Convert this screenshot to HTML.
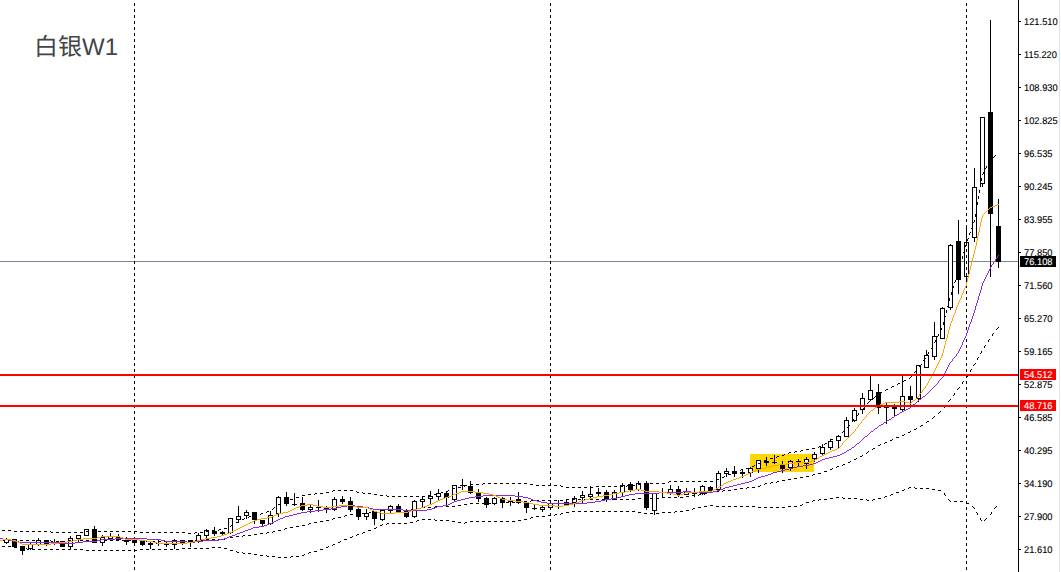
<!DOCTYPE html><html lang="zh"><head><meta charset="utf-8"><title>XAGUSD W1</title><style>
html,body{margin:0;padding:0;background:#fff;}body{width:1061px;height:572px;overflow:hidden;position:relative;font-family:"Liberation Sans",sans-serif;}
svg{position:absolute;left:0;top:0;display:block;}
.l{position:absolute;left:1024px;font-size:9.78px;line-height:10px;height:10px;color:#000;white-space:nowrap;transform-origin:0 0;transform:scaleX(.954);text-rendering:geometricPrecision;-webkit-text-stroke:.12px #000;}
.w{color:#fff;-webkit-text-stroke:.12px #fff;}
</style></head><body>
<svg width="1061" height="572" viewBox="0 0 1061 572" shape-rendering="crispEdges"><rect width="1061" height="572" fill="#fff"/><rect x="750" y="454" width="64" height="18" fill="#ffd700"/><rect x="0" y="261" width="1018" height="1" fill="#778899"/><path fill="#000" d="M6 538h1v6h-1zM4 539h5v4h-5zM14 539h1v8h-1zM12 539h5v8h-5zM22 546h1v9h-1zM20 546h5v5h-5zM30 542h1v8h-1zM28 544h5v5h-5zM38 538h1v8h-1zM36 540h5v5h-5zM46 540h1v6h-1zM44 540h5v4h-5zM54 539h1v6h-1zM52 542h5v1h-5zM62 541h1v6h-1zM60 541h5v6h-5zM70 536h1v14h-1zM68 538h5v9h-5zM78 535h1v7h-1zM76 535h5v4h-5zM86 529h1v7h-1zM84 529h5v7h-5zM94 526h1v17h-1zM92 529h5v14h-5zM102 535h1v11h-1zM100 537h5v6h-5zM110 533h1v7h-1zM108 536h5v3h-5zM118 534h1v7h-1zM116 537h5v3h-5zM126 537h1v8h-1zM124 540h5v2h-5zM134 539h1v7h-1zM132 540h5v3h-5zM142 541h1v5h-1zM140 541h5v4h-5zM150 541h1v8h-1zM148 543h5v2h-5zM158 540h1v6h-1zM156 543h5v1h-5zM166 541h1v6h-1zM164 544h5v1h-5zM174 539h1v10h-1zM172 540h5v5h-5zM182 540h1v5h-1zM180 540h5v3h-5zM190 540h1v7h-1zM188 540h5v3h-5zM198 533h1v10h-1zM196 535h5v6h-5zM206 529h1v9h-1zM204 530h5v6h-5zM214 527h1v9h-1zM212 531h5v3h-5zM222 531h1v5h-1zM220 532h5v2h-5zM230 518h1v16h-1zM228 518h5v15h-5zM238 506h1v17h-1zM236 516h5v4h-5zM246 510h1v9h-1zM244 512h5v4h-5zM254 512h1v12h-1zM252 512h5v8h-5zM262 520h1v7h-1zM260 520h5v4h-5zM270 511h1v14h-1zM268 515h5v9h-5zM278 496h1v21h-1zM276 497h5v17h-5zM286 492h1v14h-1zM284 497h5v7h-5zM294 493h1v13h-1zM292 504h5v1h-5zM302 497h1v14h-1zM300 503h5v7h-5zM310 505h1v8h-1zM308 507h5v3h-5zM318 500h1v12h-1zM316 507h5v1h-5zM326 506h1v7h-1zM324 508h5v2h-5zM334 497h1v14h-1zM332 499h5v11h-5zM342 496h1v8h-1zM340 499h5v3h-5zM350 497h1v15h-1zM348 501h5v9h-5zM358 508h1v12h-1zM356 509h5v8h-5zM366 509h1v11h-1zM364 513h5v4h-5zM374 511h1v14h-1zM372 511h5v8h-5zM382 510h1v11h-1zM380 510h5v10h-5zM390 505h1v8h-1zM388 506h5v5h-5zM398 504h1v8h-1zM396 506h5v6h-5zM406 509h1v9h-1zM404 511h5v6h-5zM414 500h1v18h-1zM412 501h5v16h-5zM422 497h1v11h-1zM420 499h5v3h-5zM430 491h1v13h-1zM428 496h5v3h-5zM438 489h1v12h-1zM436 493h5v4h-5zM446 491h1v16h-1zM444 493h5v5h-5zM454 485h1v16h-1zM452 485h5v15h-5zM462 479h1v11h-1zM460 485h5v1h-5zM470 481h1v13h-1zM468 486h5v7h-5zM478 489h1v13h-1zM476 493h5v6h-5zM486 497h1v11h-1zM484 498h5v7h-5zM494 497h1v8h-1zM492 498h5v6h-5zM502 497h1v11h-1zM500 498h5v5h-5zM510 497h1v9h-1zM508 501h5v1h-5zM518 492h1v12h-1zM516 499h5v4h-5zM526 501h1v12h-1zM524 503h5v5h-5zM534 505h1v5h-1zM532 508h5v1h-5zM542 506h1v6h-1zM540 507h5v3h-5zM550 503h1v7h-1zM548 503h5v5h-5zM558 500h1v9h-1zM556 506h5v1h-5zM566 499h1v7h-1zM564 502h5v3h-5zM574 496h1v11h-1zM572 498h5v5h-5zM582 491h1v12h-1zM580 495h5v3h-5zM590 486h1v14h-1zM588 494h5v3h-5zM598 488h1v8h-1zM596 492h5v2h-5zM606 490h1v12h-1zM604 492h5v8h-5zM614 490h1v10h-1zM612 492h5v8h-5zM622 483h1v14h-1zM620 485h5v8h-5zM630 482h1v10h-1zM628 484h5v6h-5zM638 481h1v10h-1zM636 483h5v7h-5zM646 481h1v29h-1zM644 483h5v25h-5zM654 493h1v22h-1zM652 493h5v18h-5zM662 488h1v10h-1zM660 492h5v1h-5zM670 485h1v10h-1zM668 489h5v4h-5zM678 486h1v11h-1zM676 489h5v6h-5zM686 488h1v7h-1zM684 492h5v3h-5zM694 488h1v9h-1zM692 493h5v1h-5zM702 485h1v10h-1zM700 486h5v8h-5zM710 486h1v7h-1zM708 487h5v4h-5zM718 471h1v19h-1zM716 473h5v17h-5zM726 468h1v9h-1zM724 471h5v3h-5zM734 466h1v11h-1zM732 471h5v3h-5zM742 469h1v9h-1zM740 472h5v2h-5zM750 467h1v10h-1zM748 468h5v5h-5zM758 460h1v13h-1zM756 460h5v9h-5zM766 457h1v9h-1zM764 461h5v2h-5zM774 455h1v9h-1zM772 462h5v1h-5zM782 461h1v12h-1zM780 464h5v5h-5zM790 460h1v11h-1zM788 461h5v7h-5zM798 459h1v7h-1zM796 461h5v2h-5zM806 457h1v12h-1zM804 459h5v5h-5zM814 452h1v10h-1zM812 454h5v5h-5zM822 444h1v12h-1zM820 447h5v7h-5zM830 439h1v11h-1zM828 441h5v7h-5zM838 436h1v12h-1zM836 436h5v5h-5zM846 417h1v20h-1zM844 420h5v17h-5zM854 408h1v14h-1zM852 410h5v11h-5zM862 393h1v21h-1zM860 398h5v12h-5zM870 374h1v27h-1zM868 390h5v10h-5zM878 384h1v30h-1zM876 392h5v16h-5zM886 403h1v21h-1zM884 407h5v1h-5zM894 404h1v12h-1zM892 407h5v2h-5zM902 375h1v36h-1zM900 396h5v14h-5zM910 386h1v19h-1zM908 396h5v4h-5zM918 365h1v37h-1zM916 365h5v34h-5zM926 350h1v18h-1zM924 355h5v13h-5zM934 322h1v38h-1zM932 336h5v21h-5zM942 307h1v32h-1zM940 308h5v31h-5zM950 244h1v66h-1zM948 245h5v63h-5zM958 220h1v74h-1zM956 241h5v39h-5zM966 225h1v56h-1zM964 242h5v35h-5zM974 168h1v74h-1zM972 187h5v51h-5zM982 117h1v70h-1zM980 117h5v67h-5zM990 20h1v257h-1zM988 112h5v102h-5zM998 199h1v69h-1zM996 226h5v36h-5z"/><path fill="#fff" d="M5 540h3v2h-3zM29 545h3v3h-3zM37 541h3v3h-3zM69 539h3v7h-3zM77 536h3v2h-3zM85 530h3v5h-3zM101 538h3v4h-3zM109 537h3v1h-3zM117 538h3v1h-3zM173 541h3v3h-3zM197 536h3v4h-3zM205 531h3v4h-3zM229 519h3v13h-3zM237 517h3v2h-3zM245 513h3v2h-3zM269 516h3v7h-3zM277 498h3v15h-3zM309 508h3v1h-3zM333 500h3v9h-3zM365 514h3v2h-3zM381 511h3v8h-3zM389 507h3v3h-3zM413 502h3v14h-3zM421 500h3v1h-3zM429 497h3v1h-3zM437 494h3v2h-3zM453 486h3v13h-3zM493 499h3v4h-3zM541 508h3v1h-3zM549 504h3v3h-3zM573 499h3v3h-3zM581 496h3v1h-3zM589 495h3v1h-3zM613 493h3v6h-3zM621 486h3v6h-3zM637 484h3v5h-3zM653 494h3v16h-3zM669 490h3v2h-3zM685 493h3v1h-3zM701 487h3v6h-3zM717 474h3v15h-3zM725 472h3v1h-3zM749 469h3v3h-3zM757 461h3v7h-3zM789 462h3v5h-3zM805 460h3v3h-3zM813 455h3v3h-3zM821 448h3v5h-3zM829 442h3v5h-3zM837 437h3v3h-3zM845 421h3v15h-3zM853 411h3v9h-3zM861 399h3v10h-3zM869 391h3v8h-3zM901 397h3v12h-3zM917 366h3v32h-3zM925 356h3v11h-3zM933 337h3v19h-3zM941 309h3v29h-3zM949 246h3v61h-3zM965 243h3v33h-3zM973 188h3v49h-3zM981 118h3v65h-3z"/><path fill="#000" d="M134 3h1v3h-1zM134 9h1v3h-1zM134 15h1v3h-1zM134 21h1v3h-1zM134 27h1v3h-1zM134 33h1v3h-1zM134 39h1v3h-1zM134 45h1v3h-1zM134 51h1v3h-1zM134 57h1v3h-1zM134 63h1v3h-1zM134 69h1v3h-1zM134 75h1v3h-1zM134 81h1v3h-1zM134 87h1v3h-1zM134 93h1v3h-1zM134 99h1v3h-1zM134 105h1v3h-1zM134 111h1v3h-1zM134 117h1v3h-1zM134 123h1v3h-1zM134 129h1v3h-1zM134 135h1v3h-1zM134 141h1v3h-1zM134 147h1v3h-1zM134 153h1v3h-1zM134 159h1v3h-1zM134 165h1v3h-1zM134 171h1v3h-1zM134 177h1v3h-1zM134 183h1v3h-1zM134 189h1v3h-1zM134 195h1v3h-1zM134 201h1v3h-1zM134 207h1v3h-1zM134 213h1v3h-1zM134 219h1v3h-1zM134 225h1v3h-1zM134 231h1v3h-1zM134 237h1v3h-1zM134 243h1v3h-1zM134 249h1v3h-1zM134 255h1v3h-1zM134 261h1v3h-1zM134 267h1v3h-1zM134 273h1v3h-1zM134 279h1v3h-1zM134 285h1v3h-1zM134 291h1v3h-1zM134 297h1v3h-1zM134 303h1v3h-1zM134 309h1v3h-1zM134 315h1v3h-1zM134 321h1v3h-1zM134 327h1v3h-1zM134 333h1v3h-1zM134 339h1v3h-1zM134 345h1v3h-1zM134 351h1v3h-1zM134 357h1v3h-1zM134 363h1v3h-1zM134 369h1v3h-1zM134 375h1v3h-1zM134 381h1v3h-1zM134 387h1v3h-1zM134 393h1v3h-1zM134 399h1v3h-1zM134 405h1v3h-1zM134 411h1v3h-1zM134 417h1v3h-1zM134 423h1v3h-1zM134 429h1v3h-1zM134 435h1v3h-1zM134 441h1v3h-1zM134 447h1v3h-1zM134 453h1v3h-1zM134 459h1v3h-1zM134 465h1v3h-1zM134 471h1v3h-1zM134 477h1v3h-1zM134 483h1v3h-1zM134 489h1v3h-1zM134 495h1v3h-1zM134 501h1v3h-1zM134 507h1v3h-1zM134 513h1v3h-1zM134 519h1v3h-1zM134 525h1v3h-1zM134 531h1v3h-1zM134 537h1v3h-1zM134 543h1v3h-1zM134 549h1v3h-1zM134 555h1v3h-1zM134 561h1v3h-1zM134 567h1v3h-1zM550 3h1v3h-1zM550 9h1v3h-1zM550 15h1v3h-1zM550 21h1v3h-1zM550 27h1v3h-1zM550 33h1v3h-1zM550 39h1v3h-1zM550 45h1v3h-1zM550 51h1v3h-1zM550 57h1v3h-1zM550 63h1v3h-1zM550 69h1v3h-1zM550 75h1v3h-1zM550 81h1v3h-1zM550 87h1v3h-1zM550 93h1v3h-1zM550 99h1v3h-1zM550 105h1v3h-1zM550 111h1v3h-1zM550 117h1v3h-1zM550 123h1v3h-1zM550 129h1v3h-1zM550 135h1v3h-1zM550 141h1v3h-1zM550 147h1v3h-1zM550 153h1v3h-1zM550 159h1v3h-1zM550 165h1v3h-1zM550 171h1v3h-1zM550 177h1v3h-1zM550 183h1v3h-1zM550 189h1v3h-1zM550 195h1v3h-1zM550 201h1v3h-1zM550 207h1v3h-1zM550 213h1v3h-1zM550 219h1v3h-1zM550 225h1v3h-1zM550 231h1v3h-1zM550 237h1v3h-1zM550 243h1v3h-1zM550 249h1v3h-1zM550 255h1v3h-1zM550 261h1v3h-1zM550 267h1v3h-1zM550 273h1v3h-1zM550 279h1v3h-1zM550 285h1v3h-1zM550 291h1v3h-1zM550 297h1v3h-1zM550 303h1v3h-1zM550 309h1v3h-1zM550 315h1v3h-1zM550 321h1v3h-1zM550 327h1v3h-1zM550 333h1v3h-1zM550 339h1v3h-1zM550 345h1v3h-1zM550 351h1v3h-1zM550 357h1v3h-1zM550 363h1v3h-1zM550 369h1v3h-1zM550 375h1v3h-1zM550 381h1v3h-1zM550 387h1v3h-1zM550 393h1v3h-1zM550 399h1v3h-1zM550 405h1v3h-1zM550 411h1v3h-1zM550 417h1v3h-1zM550 423h1v3h-1zM550 429h1v3h-1zM550 435h1v3h-1zM550 441h1v3h-1zM550 447h1v3h-1zM550 453h1v3h-1zM550 459h1v3h-1zM550 465h1v3h-1zM550 471h1v3h-1zM550 477h1v3h-1zM550 483h1v3h-1zM550 489h1v3h-1zM550 495h1v3h-1zM550 501h1v3h-1zM550 507h1v3h-1zM550 513h1v3h-1zM550 519h1v3h-1zM550 525h1v3h-1zM550 531h1v3h-1zM550 537h1v3h-1zM550 543h1v3h-1zM550 549h1v3h-1zM550 555h1v3h-1zM550 561h1v3h-1zM550 567h1v3h-1zM966 3h1v3h-1zM966 9h1v3h-1zM966 15h1v3h-1zM966 21h1v3h-1zM966 27h1v3h-1zM966 33h1v3h-1zM966 39h1v3h-1zM966 45h1v3h-1zM966 51h1v3h-1zM966 57h1v3h-1zM966 63h1v3h-1zM966 69h1v3h-1zM966 75h1v3h-1zM966 81h1v3h-1zM966 87h1v3h-1zM966 93h1v3h-1zM966 99h1v3h-1zM966 105h1v3h-1zM966 111h1v3h-1zM966 117h1v3h-1zM966 123h1v3h-1zM966 129h1v3h-1zM966 135h1v3h-1zM966 141h1v3h-1zM966 147h1v3h-1zM966 153h1v3h-1zM966 159h1v3h-1zM966 165h1v3h-1zM966 171h1v3h-1zM966 177h1v3h-1zM966 183h1v3h-1zM966 189h1v3h-1zM966 195h1v3h-1zM966 201h1v3h-1zM966 207h1v3h-1zM966 213h1v3h-1zM966 219h1v3h-1zM966 225h1v3h-1zM966 231h1v3h-1zM966 237h1v3h-1zM966 243h1v3h-1zM966 249h1v3h-1zM966 255h1v3h-1zM966 261h1v3h-1zM966 267h1v3h-1zM966 273h1v3h-1zM966 279h1v3h-1zM966 285h1v3h-1zM966 291h1v3h-1zM966 297h1v3h-1zM966 303h1v3h-1zM966 309h1v3h-1zM966 315h1v3h-1zM966 321h1v3h-1zM966 327h1v3h-1zM966 333h1v3h-1zM966 339h1v3h-1zM966 345h1v3h-1zM966 351h1v3h-1zM966 357h1v3h-1zM966 363h1v3h-1zM966 369h1v3h-1zM966 375h1v3h-1zM966 381h1v3h-1zM966 387h1v3h-1zM966 393h1v3h-1zM966 399h1v3h-1zM966 405h1v3h-1zM966 411h1v3h-1zM966 417h1v3h-1zM966 423h1v3h-1zM966 429h1v3h-1zM966 435h1v3h-1zM966 441h1v3h-1zM966 447h1v3h-1zM966 453h1v3h-1zM966 459h1v3h-1zM966 465h1v3h-1zM966 471h1v3h-1zM966 477h1v3h-1zM966 483h1v3h-1zM966 489h1v3h-1zM966 495h1v3h-1zM966 501h1v3h-1zM966 507h1v3h-1zM966 513h1v3h-1zM966 519h1v3h-1zM966 525h1v3h-1zM966 531h1v3h-1zM966 537h1v3h-1zM966 543h1v3h-1zM966 549h1v3h-1zM966 555h1v3h-1zM966 561h1v3h-1zM966 567h1v3h-1z"/><path fill="#000" d="M995 155h1v1h-1zM994 156h1v1h-1zM993 157h1v1h-1zM989 160h1v1h-1zM989 161h1v1h-1zM988 162h1v1h-1zM986 166h1v1h-1zM986 167h1v1h-1zM985 168h1v1h-1zM983 172h1v1h-1zM983 173h1v1h-1zM982 174h1v1h-1zM981 178h1v1h-1zM981 179h1v1h-1zM981 180h1v1h-1zM980 184h1v1h-1zM980 185h1v1h-1zM980 186h1v1h-1zM979 190h1v1h-1zM979 191h1v1h-1zM979 192h1v1h-1zM978 196h1v1h-1zM978 197h1v1h-1zM978 198h1v1h-1zM977 202h1v1h-1zM977 203h1v1h-1zM977 204h1v1h-1zM976 208h1v1h-1zM976 209h1v1h-1zM976 210h1v1h-1zM975 214h1v1h-1zM975 215h1v1h-1zM975 216h1v1h-1zM974 220h1v1h-1zM974 221h1v1h-1zM973 222h1v1h-1zM972 226h1v1h-1zM972 227h1v1h-1zM971 228h1v1h-1zM970 232h1v1h-1zM969 233h1v1h-1zM969 234h1v1h-1zM968 238h1v1h-1zM967 239h1v1h-1zM967 240h1v1h-1zM966 244h1v1h-1zM965 245h1v1h-1zM965 246h1v1h-1zM964 250h1v1h-1zM964 251h1v1h-1zM963 252h1v1h-1zM962 256h1v1h-1zM962 257h1v1h-1zM962 258h1v1h-1zM960 262h1v1h-1zM960 263h1v1h-1zM960 264h1v1h-1zM959 268h1v1h-1zM958 269h1v1h-1zM958 270h1v1h-1zM957 274h1v1h-1zM956 275h1v1h-1zM956 276h1v1h-1zM955 280h1v1h-1zM955 281h1v1h-1zM954 282h1v1h-1zM953 286h1v1h-1zM953 287h1v1h-1zM952 288h1v1h-1zM951 292h1v1h-1zM951 293h1v1h-1zM951 294h1v1h-1zM949 298h1v1h-1zM949 299h1v1h-1zM949 300h1v1h-1zM948 304h1v1h-1zM948 305h1v1h-1zM947 306h1v1h-1zM946 310h1v1h-1zM946 311h1v1h-1zM946 312h1v1h-1zM945 316h1v1h-1zM944 317h1v1h-1zM944 318h1v1h-1zM943 322h1v1h-1zM943 323h1v1h-1zM943 324h1v1h-1zM998 327h1v1h-1zM941 328h1v1h-1zM997 328h1v1h-1zM941 329h1v1h-1zM996 329h1v1h-1zM940 330h1v1h-1zM993 333h1v1h-1zM938 334h1v1h-1zM992 334h1v1h-1zM938 335h1v1h-1zM992 335h1v1h-1zM937 336h1v1h-1zM989 339h1v1h-1zM935 340h1v1h-1zM988 340h1v1h-1zM935 341h1v1h-1zM988 341h1v1h-1zM934 342h1v1h-1zM985 345h1v1h-1zM932 346h1v1h-1zM984 346h1v1h-1zM932 347h1v1h-1zM984 347h1v1h-1zM931 348h1v1h-1zM981 351h1v1h-1zM928 352h1v1h-1zM981 352h1v1h-1zM928 353h1v1h-1zM980 353h1v1h-1zM927 354h1v1h-1zM978 357h1v1h-1zM925 358h1v1h-1zM977 358h1v1h-1zM924 359h1v1h-1zM977 359h1v1h-1zM923 360h1v1h-1zM975 363h1v1h-1zM921 364h1v1h-1zM974 364h1v1h-1zM920 365h1v1h-1zM973 365h1v1h-1zM919 366h1v1h-1zM971 369h1v1h-1zM916 370h1v1h-1zM970 370h1v1h-1zM915 371h1v1h-1zM970 371h1v1h-1zM914 372h1v1h-1zM967 375h1v1h-1zM911 376h1v1h-1zM967 376h1v1h-1zM910 377h1v1h-1zM966 377h1v1h-1zM909 378h1v1h-1zM904 380h2v1h-2zM903 381h1v1h-1zM963 381h1v1h-1zM962 382h1v1h-1zM898 383h2v1h-2zM962 383h1v1h-1zM897 384h1v1h-1zM892 386h2v1h-2zM891 387h1v1h-1zM959 387h1v1h-1zM958 388h1v1h-1zM886 389h2v1h-2zM957 389h1v1h-1zM885 390h1v1h-1zM881 392h1v1h-1zM879 393h2v1h-2zM954 393h1v1h-1zM954 394h1v1h-1zM953 395h1v1h-1zM875 396h1v1h-1zM874 397h1v1h-1zM873 398h1v1h-1zM950 399h1v1h-1zM949 400h1v1h-1zM869 401h1v1h-1zM948 401h1v1h-1zM868 402h1v1h-1zM867 403h1v1h-1zM945 405h1v1h-1zM944 406h1v1h-1zM864 407h1v1h-1zM944 407h1v1h-1zM863 408h1v1h-1zM862 409h1v1h-1zM940 411h1v1h-1zM939 412h1v1h-1zM858 413h1v1h-1zM938 413h1v1h-1zM858 414h1v1h-1zM857 415h1v1h-1zM934 416h1v1h-1zM933 417h1v1h-1zM932 418h1v1h-1zM853 419h1v1h-1zM853 420h1v1h-1zM852 421h1v1h-1zM927 421h2v1h-2zM926 422h1v1h-1zM849 425h1v1h-1zM921 425h2v1h-2zM848 426h1v1h-1zM920 426h1v1h-1zM847 427h1v1h-1zM916 428h1v1h-1zM914 429h2v1h-2zM843 431h2v1h-2zM910 431h1v1h-1zM842 432h1v1h-1zM908 432h2v1h-2zM904 434h1v1h-1zM838 435h1v1h-1zM902 435h2v1h-2zM836 436h2v1h-2zM896 437h3v1h-3zM831 439h2v1h-2zM892 439h1v1h-1zM830 440h1v1h-1zM890 440h2v1h-2zM885 442h2v1h-2zM825 443h2v1h-2zM884 443h1v1h-1zM824 444h1v1h-1zM880 444h1v1h-1zM878 445h2v1h-2zM819 446h2v1h-2zM818 447h1v1h-1zM812 448h3v1h-3zM873 448h2v1h-2zM806 449h3v1h-3zM872 449h1v1h-1zM801 450h2v1h-2zM795 451h2v1h-2zM800 451h1v1h-1zM868 451h1v1h-1zM789 452h2v1h-2zM794 452h1v1h-1zM867 452h1v1h-1zM788 453h1v1h-1zM866 453h1v1h-1zM784 454h1v1h-1zM782 455h2v1h-2zM862 455h1v1h-1zM777 456h2v1h-2zM860 456h2v1h-2zM776 457h1v1h-1zM770 458h3v1h-3zM856 458h1v1h-1zM766 459h1v1h-1zM854 459h2v1h-2zM764 460h2v1h-2zM850 461h1v1h-1zM760 462h1v1h-1zM848 462h2v1h-2zM758 463h2v1h-2zM843 464h2v1h-2zM754 465h1v1h-1zM842 465h1v1h-1zM752 466h2v1h-2zM837 466h2v1h-2zM836 467h1v1h-1zM746 468h3v1h-3zM832 468h1v1h-1zM741 469h2v1h-2zM830 469h2v1h-2zM740 470h1v1h-1zM736 471h1v1h-1zM824 471h3v1h-3zM734 472h2v1h-2zM818 473h3v1h-3zM728 474h3v1h-3zM813 474h2v1h-2zM812 475h1v1h-1zM724 476h1v1h-1zM806 476h3v1h-3zM722 477h2v1h-2zM800 477h3v1h-3zM794 478h3v1h-3zM717 479h2v1h-2zM788 479h3v1h-3zM716 480h1v1h-1zM782 480h3v1h-3zM669 481h2v1h-2zM674 481h3v1h-3zM680 481h3v1h-3zM686 481h3v1h-3zM692 481h3v1h-3zM698 481h3v1h-3zM704 481h3v1h-3zM710 481h3v1h-3zM777 481h2v1h-2zM668 482h1v1h-1zM771 482h2v1h-2zM776 482h1v1h-1zM483 483h2v1h-2zM488 483h3v1h-3zM494 483h3v1h-3zM500 483h3v1h-3zM506 483h3v1h-3zM512 483h3v1h-3zM518 483h3v1h-3zM524 483h3v1h-3zM644 483h3v1h-3zM650 483h3v1h-3zM656 483h3v1h-3zM662 483h3v1h-3zM765 483h2v1h-2zM770 483h1v1h-1zM470 484h3v1h-3zM476 484h3v1h-3zM482 484h1v1h-1zM530 484h3v1h-3zM638 484h3v1h-3zM764 484h1v1h-1zM465 485h2v1h-2zM536 485h3v1h-3zM542 485h3v1h-3zM548 485h3v1h-3zM554 485h3v1h-3zM560 485h1v1h-1zM627 485h2v1h-2zM632 485h3v1h-3zM760 485h1v1h-1zM464 486h1v1h-1zM561 486h2v1h-2zM596 486h3v1h-3zM602 486h3v1h-3zM608 486h3v1h-3zM614 486h3v1h-3zM620 486h3v1h-3zM626 486h1v1h-1zM758 486h2v1h-2zM458 487h3v1h-3zM566 487h3v1h-3zM572 487h3v1h-3zM578 487h3v1h-3zM584 487h3v1h-3zM590 487h3v1h-3zM747 487h2v1h-2zM752 487h3v1h-3zM909 487h2v1h-2zM914 487h1v1h-1zM453 488h2v1h-2zM740 488h3v1h-3zM746 488h1v1h-1zM908 488h1v1h-1zM915 488h2v1h-2zM920 488h3v1h-3zM926 488h3v1h-3zM452 489h1v1h-1zM734 489h3v1h-3zM904 489h1v1h-1zM932 489h3v1h-3zM333 490h2v1h-2zM338 490h3v1h-3zM344 490h3v1h-3zM350 490h3v1h-3zM448 490h1v1h-1zM723 490h2v1h-2zM728 490h3v1h-3zM902 490h2v1h-2zM938 490h3v1h-3zM332 491h1v1h-1zM356 491h1v1h-1zM446 491h2v1h-2zM716 491h3v1h-3zM722 491h1v1h-1zM326 492h3v1h-3zM357 492h2v1h-2zM362 492h1v1h-1zM441 492h2v1h-2zM710 492h3v1h-3zM896 492h3v1h-3zM315 493h2v1h-2zM320 493h3v1h-3zM363 493h2v1h-2zM368 493h3v1h-3zM440 493h1v1h-1zM705 493h2v1h-2zM944 493h1v1h-1zM308 494h3v1h-3zM314 494h1v1h-1zM374 494h3v1h-3zM434 494h3v1h-3zM699 494h2v1h-2zM704 494h1v1h-1zM891 494h2v1h-2zM944 494h1v1h-1zM302 495h3v1h-3zM380 495h3v1h-3zM386 495h1v1h-1zM428 495h3v1h-3zM692 495h3v1h-3zM698 495h1v1h-1zM890 495h1v1h-1zM945 495h1v1h-1zM387 496h2v1h-2zM392 496h3v1h-3zM398 496h3v1h-3zM404 496h3v1h-3zM410 496h3v1h-3zM416 496h3v1h-3zM422 496h3v1h-3zM686 496h3v1h-3zM885 496h2v1h-2zM296 497h3v1h-3zM662 497h3v1h-3zM668 497h3v1h-3zM674 497h3v1h-3zM680 497h3v1h-3zM836 497h3v1h-3zM842 497h1v1h-1zM884 497h1v1h-1zM638 498h3v1h-3zM644 498h3v1h-3zM650 498h3v1h-3zM656 498h3v1h-3zM830 498h3v1h-3zM843 498h2v1h-2zM848 498h3v1h-3zM854 498h3v1h-3zM878 498h3v1h-3zM290 499h3v1h-3zM566 499h3v1h-3zM572 499h3v1h-3zM578 499h3v1h-3zM584 499h3v1h-3zM590 499h3v1h-3zM596 499h3v1h-3zM602 499h3v1h-3zM608 499h3v1h-3zM614 499h3v1h-3zM620 499h3v1h-3zM626 499h3v1h-3zM632 499h3v1h-3zM819 499h2v1h-2zM824 499h3v1h-3zM860 499h3v1h-3zM866 499h1v1h-1zM873 499h2v1h-2zM948 499h1v1h-1zM286 500h1v1h-1zM531 500h2v1h-2zM536 500h3v1h-3zM542 500h3v1h-3zM548 500h3v1h-3zM554 500h3v1h-3zM560 500h3v1h-3zM813 500h2v1h-2zM818 500h1v1h-1zM867 500h2v1h-2zM872 500h1v1h-1zM949 500h1v1h-1zM284 501h2v1h-2zM524 501h3v1h-3zM530 501h1v1h-1zM812 501h1v1h-1zM950 501h1v1h-1zM954 501h3v1h-3zM960 501h3v1h-3zM500 502h3v1h-3zM506 502h3v1h-3zM512 502h3v1h-3zM518 502h3v1h-3zM806 502h3v1h-3zM966 502h1v1h-1zM280 503h1v1h-1zM470 503h3v1h-3zM476 503h3v1h-3zM482 503h3v1h-3zM488 503h3v1h-3zM494 503h3v1h-3zM967 503h2v1h-2zM278 504h2v1h-2zM464 504h3v1h-3zM802 504h1v1h-1zM458 505h3v1h-3zM710 505h3v1h-3zM800 505h2v1h-2zM435 506h2v1h-2zM440 506h3v1h-3zM446 506h3v1h-3zM452 506h3v1h-3zM704 506h3v1h-3zM716 506h3v1h-3zM722 506h3v1h-3zM728 506h3v1h-3zM734 506h3v1h-3zM740 506h3v1h-3zM746 506h3v1h-3zM752 506h3v1h-3zM788 506h3v1h-3zM794 506h3v1h-3zM972 506h1v1h-1zM996 506h1v1h-1zM274 507h1v1h-1zM422 507h3v1h-3zM428 507h3v1h-3zM434 507h1v1h-1zM698 507h3v1h-3zM758 507h3v1h-3zM764 507h3v1h-3zM770 507h3v1h-3zM776 507h3v1h-3zM782 507h3v1h-3zM973 507h1v1h-1zM995 507h1v1h-1zM273 508h1v1h-1zM417 508h2v1h-2zM693 508h2v1h-2zM974 508h1v1h-1zM994 508h1v1h-1zM272 509h1v1h-1zM381 509h2v1h-2zM386 509h3v1h-3zM392 509h3v1h-3zM398 509h3v1h-3zM411 509h2v1h-2zM416 509h1v1h-1zM692 509h1v1h-1zM380 510h1v1h-1zM404 510h3v1h-3zM410 510h1v1h-1zM686 510h3v1h-3zM267 511h2v1h-2zM374 511h3v1h-3zM572 511h3v1h-3zM578 511h3v1h-3zM584 511h3v1h-3zM590 511h3v1h-3zM596 511h3v1h-3zM602 511h3v1h-3zM608 511h3v1h-3zM614 511h3v1h-3zM620 511h3v1h-3zM626 511h3v1h-3zM632 511h3v1h-3zM675 511h2v1h-2zM680 511h3v1h-3zM266 512h1v1h-1zM369 512h2v1h-2zM566 512h3v1h-3zM638 512h3v1h-3zM662 512h3v1h-3zM668 512h3v1h-3zM674 512h1v1h-1zM976 512h1v1h-1zM991 512h1v1h-1zM261 513h2v1h-2zM356 513h3v1h-3zM362 513h3v1h-3zM368 513h1v1h-1zM561 513h2v1h-2zM644 513h3v1h-3zM650 513h3v1h-3zM656 513h3v1h-3zM977 513h1v1h-1zM991 513h1v1h-1zM260 514h1v1h-1zM350 514h3v1h-3zM555 514h2v1h-2zM560 514h1v1h-1zM977 514h1v1h-1zM990 514h1v1h-1zM254 515h3v1h-3zM345 515h2v1h-2zM548 515h3v1h-3zM554 515h1v1h-1zM249 516h2v1h-2zM344 516h1v1h-1zM536 516h3v1h-3zM542 516h3v1h-3zM248 517h1v1h-1zM338 517h3v1h-3zM531 517h2v1h-2zM244 518h1v1h-1zM333 518h2v1h-2zM530 518h1v1h-1zM980 518h1v1h-1zM986 518h1v1h-1zM242 519h2v1h-2zM332 519h1v1h-1zM422 519h3v1h-3zM428 519h3v1h-3zM434 519h1v1h-1zM524 519h3v1h-3zM980 519h1v1h-1zM985 519h1v1h-1zM326 520h3v1h-3zM417 520h2v1h-2zM435 520h2v1h-2zM440 520h3v1h-3zM446 520h3v1h-3zM518 520h3v1h-3zM981 520h1v1h-1zM984 520h1v1h-1zM238 521h1v1h-1zM320 521h3v1h-3zM416 521h1v1h-1zM452 521h3v1h-3zM470 521h3v1h-3zM476 521h3v1h-3zM482 521h3v1h-3zM488 521h3v1h-3zM494 521h3v1h-3zM500 521h3v1h-3zM506 521h3v1h-3zM512 521h3v1h-3zM236 522h2v1h-2zM314 522h3v1h-3zM410 522h3v1h-3zM458 522h3v1h-3zM465 522h2v1h-2zM309 523h2v1h-2zM387 523h2v1h-2zM392 523h3v1h-3zM398 523h3v1h-3zM404 523h3v1h-3zM464 523h1v1h-1zM308 524h1v1h-1zM382 524h1v1h-1zM386 524h1v1h-1zM231 525h2v1h-2zM302 525h3v1h-3zM380 525h2v1h-2zM230 526h1v1h-1zM296 526h3v1h-3zM290 527h3v1h-3zM376 527h1v1h-1zM224 528h3v1h-3zM285 528h2v1h-2zM374 528h2v1h-2zM219 529h2v1h-2zM284 529h1v1h-1zM2 530h3v1h-3zM8 530h3v1h-3zM212 530h3v1h-3zM218 530h1v1h-1zM278 530h3v1h-3zM368 530h3v1h-3zM14 531h3v1h-3zM20 531h3v1h-3zM26 531h3v1h-3zM32 531h3v1h-3zM38 531h3v1h-3zM44 531h3v1h-3zM50 531h1v1h-1zM86 531h3v1h-3zM92 531h3v1h-3zM98 531h3v1h-3zM104 531h3v1h-3zM110 531h3v1h-3zM116 531h3v1h-3zM122 531h3v1h-3zM128 531h3v1h-3zM134 531h3v1h-3zM206 531h3v1h-3zM273 531h2v1h-2zM51 532h2v1h-2zM56 532h3v1h-3zM62 532h3v1h-3zM68 532h3v1h-3zM74 532h3v1h-3zM80 532h3v1h-3zM140 532h3v1h-3zM146 532h3v1h-3zM152 532h3v1h-3zM158 532h3v1h-3zM164 532h3v1h-3zM170 532h3v1h-3zM176 532h3v1h-3zM182 532h3v1h-3zM195 532h2v1h-2zM200 532h3v1h-3zM267 532h2v1h-2zM272 532h1v1h-1zM363 532h2v1h-2zM188 533h3v1h-3zM194 533h1v1h-1zM260 533h3v1h-3zM266 533h1v1h-1zM362 533h1v1h-1zM254 534h3v1h-3zM357 534h2v1h-2zM243 535h2v1h-2zM248 535h3v1h-3zM356 535h1v1h-1zM236 536h3v1h-3zM242 536h1v1h-1zM352 536h1v1h-1zM230 537h3v1h-3zM350 537h2v1h-2zM225 538h2v1h-2zM206 539h3v1h-3zM212 539h3v1h-3zM218 539h3v1h-3zM224 539h1v1h-1zM344 539h3v1h-3zM2 540h3v1h-3zM8 540h3v1h-3zM14 540h3v1h-3zM20 540h3v1h-3zM26 540h3v1h-3zM32 540h3v1h-3zM38 540h3v1h-3zM44 540h3v1h-3zM50 540h1v1h-1zM68 540h3v1h-3zM74 540h3v1h-3zM80 540h3v1h-3zM86 540h3v1h-3zM92 540h3v1h-3zM98 540h3v1h-3zM104 540h3v1h-3zM110 540h3v1h-3zM116 540h3v1h-3zM122 540h3v1h-3zM128 540h3v1h-3zM134 540h3v1h-3zM195 540h2v1h-2zM200 540h3v1h-3zM51 541h2v1h-2zM56 541h3v1h-3zM62 541h3v1h-3zM140 541h3v1h-3zM146 541h3v1h-3zM152 541h3v1h-3zM158 541h3v1h-3zM164 541h3v1h-3zM170 541h3v1h-3zM176 541h3v1h-3zM182 541h3v1h-3zM188 541h3v1h-3zM194 541h1v1h-1zM340 541h1v1h-1zM338 542h2v1h-2zM333 544h2v1h-2zM332 545h1v1h-1zM2 546h3v1h-3zM8 546h3v1h-3zM328 546h1v1h-1zM14 547h3v1h-3zM212 547h3v1h-3zM218 547h3v1h-3zM326 547h2v1h-2zM20 548h3v1h-3zM26 548h1v1h-1zM182 548h3v1h-3zM188 548h3v1h-3zM194 548h3v1h-3zM200 548h3v1h-3zM206 548h3v1h-3zM224 548h3v1h-3zM27 549h2v1h-2zM32 549h3v1h-3zM38 549h3v1h-3zM44 549h3v1h-3zM50 549h3v1h-3zM56 549h3v1h-3zM62 549h3v1h-3zM68 549h3v1h-3zM74 549h3v1h-3zM80 549h3v1h-3zM140 549h3v1h-3zM146 549h3v1h-3zM152 549h3v1h-3zM158 549h3v1h-3zM164 549h3v1h-3zM170 549h3v1h-3zM176 549h3v1h-3zM320 549h3v1h-3zM86 550h3v1h-3zM92 550h3v1h-3zM98 550h3v1h-3zM104 550h3v1h-3zM110 550h3v1h-3zM116 550h3v1h-3zM122 550h3v1h-3zM128 550h3v1h-3zM134 550h3v1h-3zM230 550h3v1h-3zM236 551h1v1h-1zM314 551h3v1h-3zM237 552h2v1h-2zM242 552h1v1h-1zM309 552h2v1h-2zM243 553h2v1h-2zM248 553h3v1h-3zM308 553h1v1h-1zM254 554h3v1h-3zM304 554h1v1h-1zM260 555h3v1h-3zM266 555h1v1h-1zM302 555h2v1h-2zM267 556h2v1h-2zM272 556h3v1h-3zM291 556h2v1h-2zM296 556h3v1h-3zM278 557h3v1h-3zM284 557h3v1h-3zM290 557h1v1h-1z"/><path fill="#8a2be2" d="M998 255h1v1h-1zM997 256h1v1h-1zM997 257h1v1h-1zM996 258h1v1h-1zM995 259h1v1h-1zM995 260h1v1h-1zM994 261h1v1h-1zM993 262h1v1h-1zM993 263h1v1h-1zM992 264h1v1h-1zM991 265h1v1h-1zM991 266h1v1h-1zM990 267h1v1h-1zM990 268h1v1h-1zM989 269h1v1h-1zM989 270h1v1h-1zM988 271h1v1h-1zM988 272h1v1h-1zM987 273h1v1h-1zM987 274h1v1h-1zM986 275h1v1h-1zM986 276h1v1h-1zM985 277h1v1h-1zM985 278h1v1h-1zM984 279h1v1h-1zM984 280h1v1h-1zM983 281h1v1h-1zM983 282h1v1h-1zM982 283h1v1h-1zM982 284h1v1h-1zM982 285h1v1h-1zM981 286h1v1h-1zM981 287h1v1h-1zM981 288h1v1h-1zM981 289h1v1h-1zM980 290h1v1h-1zM980 291h1v1h-1zM980 292h1v1h-1zM979 293h1v1h-1zM979 294h1v1h-1zM979 295h1v1h-1zM978 296h1v1h-1zM978 297h1v1h-1zM978 298h1v1h-1zM978 299h1v1h-1zM977 300h1v1h-1zM977 301h1v1h-1zM977 302h1v1h-1zM976 303h1v1h-1zM976 304h1v1h-1zM976 305h1v1h-1zM975 306h1v1h-1zM975 307h1v1h-1zM975 308h1v1h-1zM975 309h1v1h-1zM974 310h1v1h-1zM974 311h1v1h-1zM974 312h1v1h-1zM973 313h1v1h-1zM973 314h1v1h-1zM973 315h1v1h-1zM972 316h1v1h-1zM972 317h1v1h-1zM972 318h1v1h-1zM971 319h1v1h-1zM971 320h1v1h-1zM971 321h1v1h-1zM970 322h1v1h-1zM970 323h1v1h-1zM969 324h1v1h-1zM969 325h1v1h-1zM969 326h1v1h-1zM968 327h1v1h-1zM968 328h1v1h-1zM968 329h1v1h-1zM967 330h1v1h-1zM967 331h1v1h-1zM967 332h1v1h-1zM966 333h1v1h-1zM966 334h1v1h-1zM966 335h1v1h-1zM965 336h1v1h-1zM965 337h1v1h-1zM964 338h1v1h-1zM964 339h1v1h-1zM963 340h1v1h-1zM963 341h1v1h-1zM962 342h1v1h-1zM962 343h1v1h-1zM962 344h1v1h-1zM961 345h1v1h-1zM961 346h1v1h-1zM960 347h1v1h-1zM960 348h1v1h-1zM959 349h1v1h-1zM959 350h1v1h-1zM958 351h1v1h-1zM958 352h1v1h-1zM957 353h1v1h-1zM956 354h1v1h-1zM956 355h1v1h-1zM955 356h1v1h-1zM954 357h1v1h-1zM953 358h1v1h-1zM952 359h1v1h-1zM952 360h1v1h-1zM951 361h1v1h-1zM950 362h1v1h-1zM949 363h1v1h-1zM949 364h1v1h-1zM948 365h1v1h-1zM948 366h1v1h-1zM947 367h1v1h-1zM947 368h1v1h-1zM946 369h1v1h-1zM946 370h1v1h-1zM945 371h1v1h-1zM945 372h1v1h-1zM944 373h1v1h-1zM944 374h1v1h-1zM943 375h1v1h-1zM943 376h1v1h-1zM942 377h1v1h-1zM941 378h1v1h-1zM940 379h1v1h-1zM939 380h1v1h-1zM938 381h1v1h-1zM938 382h1v1h-1zM937 383h1v1h-1zM936 384h1v1h-1zM935 385h1v1h-1zM934 386h1v1h-1zM933 387h1v1h-1zM932 388h1v1h-1zM931 389h1v1h-1zM930 390h1v1h-1zM929 391h1v1h-1zM928 392h1v1h-1zM927 393h1v1h-1zM926 394h1v1h-1zM925 395h1v1h-1zM923 396h2v1h-2zM922 397h1v1h-1zM921 398h1v1h-1zM919 399h2v1h-2zM918 400h1v1h-1zM917 401h1v1h-1zM916 402h1v1h-1zM915 403h1v1h-1zM913 404h2v1h-2zM912 405h1v1h-1zM911 406h1v1h-1zM910 407h1v1h-1zM908 408h2v1h-2zM906 409h2v1h-2zM904 410h2v1h-2zM902 411h2v1h-2zM900 412h2v1h-2zM899 413h1v1h-1zM897 414h2v1h-2zM895 415h2v1h-2zM894 416h1v1h-1zM892 417h2v1h-2zM891 418h1v1h-1zM889 419h2v1h-2zM887 420h2v1h-2zM886 421h1v1h-1zM884 422h2v1h-2zM883 423h1v1h-1zM881 424h2v1h-2zM879 425h2v1h-2zM878 426h1v1h-1zM877 427h1v1h-1zM875 428h2v1h-2zM874 429h1v1h-1zM873 430h1v1h-1zM871 431h2v1h-2zM870 432h1v1h-1zM869 433h1v1h-1zM868 434h1v1h-1zM867 435h1v1h-1zM865 436h2v1h-2zM864 437h1v1h-1zM863 438h1v1h-1zM862 439h1v1h-1zM861 440h1v1h-1zM860 441h1v1h-1zM859 442h1v1h-1zM857 443h2v1h-2zM856 444h1v1h-1zM855 445h1v1h-1zM854 446h1v1h-1zM852 447h2v1h-2zM851 448h1v1h-1zM849 449h2v1h-2zM847 450h2v1h-2zM846 451h1v1h-1zM844 452h2v1h-2zM842 453h2v1h-2zM840 454h2v1h-2zM837 455h3v1h-3zM833 456h4v1h-4zM829 457h4v1h-4zM825 458h4v1h-4zM822 459h3v1h-3zM820 460h2v1h-2zM818 461h2v1h-2zM816 462h2v1h-2zM813 463h3v1h-3zM809 464h4v1h-4zM803 465h6v1h-6zM797 466h6v1h-6zM793 467h4v1h-4zM789 468h4v1h-4zM785 469h4v1h-4zM781 470h4v1h-4zM777 471h4v1h-4zM773 472h4v1h-4zM771 473h2v1h-2zM768 474h3v1h-3zM765 475h3v1h-3zM761 476h4v1h-4zM758 477h3v1h-3zM756 478h2v1h-2zM754 479h2v1h-2zM752 480h2v1h-2zM749 481h3v1h-3zM745 482h4v1h-4zM741 483h4v1h-4zM737 484h4v1h-4zM733 485h4v1h-4zM729 486h4v1h-4zM725 487h4v1h-4zM723 488h2v1h-2zM720 489h3v1h-3zM717 490h3v1h-3zM683 491h8v1h-8zM713 491h4v1h-4zM659 492h24v1h-24zM691 492h22v1h-22zM635 493h24v1h-24zM629 494h6v1h-6zM483 495h32v1h-32zM625 495h4v1h-4zM475 496h8v1h-8zM515 496h8v1h-8zM621 496h4v1h-4zM469 497h6v1h-6zM523 497h5v1h-5zM617 497h4v1h-4zM465 498h4v1h-4zM528 498h3v1h-3zM611 498h6v1h-6zM461 499h4v1h-4zM531 499h2v1h-2zM605 499h6v1h-6zM457 500h4v1h-4zM533 500h4v1h-4zM601 500h4v1h-4zM454 501h3v1h-3zM537 501h4v1h-4zM595 501h6v1h-6zM452 502h2v1h-2zM541 502h6v1h-6zM587 502h8v1h-8zM450 503h2v1h-2zM547 503h40v1h-40zM448 504h2v1h-2zM347 505h8v1h-8zM443 505h5v1h-5zM341 506h6v1h-6zM355 506h8v1h-8zM437 506h6v1h-6zM337 507h4v1h-4zM363 507h6v1h-6zM435 507h2v1h-2zM331 508h6v1h-6zM369 508h4v1h-4zM432 508h3v1h-3zM323 509h8v1h-8zM373 509h30v1h-30zM427 509h5v1h-5zM315 510h8v1h-8zM403 510h24v1h-24zM307 511h8v1h-8zM301 512h6v1h-6zM297 513h4v1h-4zM293 514h4v1h-4zM289 515h4v1h-4zM285 516h4v1h-4zM283 517h2v1h-2zM280 518h3v1h-3zM278 519h2v1h-2zM276 520h2v1h-2zM274 521h2v1h-2zM272 522h2v1h-2zM269 523h3v1h-3zM267 524h2v1h-2zM264 525h3v1h-3zM259 526h5v1h-5zM253 527h6v1h-6zM251 528h2v1h-2zM248 529h3v1h-3zM245 530h3v1h-3zM243 531h2v1h-2zM240 532h3v1h-3zM237 533h3v1h-3zM235 534h2v1h-2zM232 535h3v1h-3zM229 536h3v1h-3zM227 537h2v1h-2zM0 538h3v1h-3zM115 538h32v1h-32zM224 538h3v1h-3zM3 539h6v1h-6zM101 539h14v1h-14zM147 539h14v1h-14zM219 539h5v1h-5zM9 540h4v1h-4zM97 540h4v1h-4zM161 540h4v1h-4zM203 540h16v1h-16zM13 541h6v1h-6zM83 541h14v1h-14zM165 541h22v1h-22zM195 541h8v1h-8zM19 542h40v1h-40zM75 542h8v1h-8zM187 542h8v1h-8zM59 543h16v1h-16z"/><path fill="#ffa500" d="M997 204h2v1h-2zM995 205h2v1h-2zM992 206h3v1h-3zM990 207h2v1h-2zM989 208h1v1h-1zM988 209h1v1h-1zM987 210h1v1h-1zM986 211h1v1h-1zM985 212h1v1h-1zM984 213h1v1h-1zM983 214h1v1h-1zM982 215h1v1h-1zM982 216h1v1h-1zM982 217h1v1h-1zM981 218h1v1h-1zM981 219h1v1h-1zM981 220h1v1h-1zM981 221h1v1h-1zM980 222h1v1h-1zM980 223h1v1h-1zM980 224h1v1h-1zM980 225h1v1h-1zM980 226h1v1h-1zM979 227h1v1h-1zM979 228h1v1h-1zM979 229h1v1h-1zM979 230h1v1h-1zM979 231h1v1h-1zM978 232h1v1h-1zM978 233h1v1h-1zM978 234h1v1h-1zM978 235h1v1h-1zM977 236h1v1h-1zM977 237h1v1h-1zM977 238h1v1h-1zM977 239h1v1h-1zM977 240h1v1h-1zM976 241h1v1h-1zM976 242h1v1h-1zM976 243h1v1h-1zM976 244h1v1h-1zM976 245h1v1h-1zM975 246h1v1h-1zM975 247h1v1h-1zM975 248h1v1h-1zM975 249h1v1h-1zM974 250h1v1h-1zM974 251h1v1h-1zM974 252h1v1h-1zM974 253h1v1h-1zM973 254h1v1h-1zM973 255h1v1h-1zM973 256h1v1h-1zM973 257h1v1h-1zM972 258h1v1h-1zM972 259h1v1h-1zM972 260h1v1h-1zM972 261h1v1h-1zM971 262h1v1h-1zM971 263h1v1h-1zM971 264h1v1h-1zM971 265h1v1h-1zM970 266h1v1h-1zM970 267h1v1h-1zM970 268h1v1h-1zM970 269h1v1h-1zM969 270h1v1h-1zM969 271h1v1h-1zM969 272h1v1h-1zM969 273h1v1h-1zM968 274h1v1h-1zM968 275h1v1h-1zM968 276h1v1h-1zM968 277h1v1h-1zM967 278h1v1h-1zM967 279h1v1h-1zM967 280h1v1h-1zM967 281h1v1h-1zM966 282h1v1h-1zM966 283h1v1h-1zM966 284h1v1h-1zM966 285h1v1h-1zM965 286h1v1h-1zM965 287h1v1h-1zM964 288h1v1h-1zM964 289h1v1h-1zM963 290h1v1h-1zM963 291h1v1h-1zM963 292h1v1h-1zM962 293h1v1h-1zM962 294h1v1h-1zM961 295h1v1h-1zM961 296h1v1h-1zM961 297h1v1h-1zM960 298h1v1h-1zM960 299h1v1h-1zM959 300h1v1h-1zM959 301h1v1h-1zM958 302h1v1h-1zM958 303h1v1h-1zM958 304h1v1h-1zM957 305h1v1h-1zM957 306h1v1h-1zM956 307h1v1h-1zM956 308h1v1h-1zM956 309h1v1h-1zM955 310h1v1h-1zM955 311h1v1h-1zM955 312h1v1h-1zM954 313h1v1h-1zM954 314h1v1h-1zM953 315h1v1h-1zM953 316h1v1h-1zM953 317h1v1h-1zM952 318h1v1h-1zM952 319h1v1h-1zM952 320h1v1h-1zM951 321h1v1h-1zM951 322h1v1h-1zM950 323h1v1h-1zM950 324h1v1h-1zM950 325h1v1h-1zM949 326h1v1h-1zM949 327h1v1h-1zM949 328h1v1h-1zM949 329h1v1h-1zM948 330h1v1h-1zM948 331h1v1h-1zM948 332h1v1h-1zM948 333h1v1h-1zM947 334h1v1h-1zM947 335h1v1h-1zM947 336h1v1h-1zM947 337h1v1h-1zM946 338h1v1h-1zM946 339h1v1h-1zM946 340h1v1h-1zM945 341h1v1h-1zM945 342h1v1h-1zM945 343h1v1h-1zM945 344h1v1h-1zM944 345h1v1h-1zM944 346h1v1h-1zM944 347h1v1h-1zM944 348h1v1h-1zM943 349h1v1h-1zM943 350h1v1h-1zM943 351h1v1h-1zM943 352h1v1h-1zM942 353h1v1h-1zM942 354h1v1h-1zM942 355h1v1h-1zM941 356h1v1h-1zM941 357h1v1h-1zM940 358h1v1h-1zM940 359h1v1h-1zM939 360h1v1h-1zM939 361h1v1h-1zM938 362h1v1h-1zM938 363h1v1h-1zM937 364h1v1h-1zM937 365h1v1h-1zM936 366h1v1h-1zM936 367h1v1h-1zM935 368h1v1h-1zM935 369h1v1h-1zM934 370h1v1h-1zM934 371h1v1h-1zM933 372h1v1h-1zM933 373h1v1h-1zM932 374h1v1h-1zM932 375h1v1h-1zM931 376h1v1h-1zM931 377h1v1h-1zM930 378h1v1h-1zM929 379h1v1h-1zM929 380h1v1h-1zM928 381h1v1h-1zM928 382h1v1h-1zM927 383h1v1h-1zM927 384h1v1h-1zM926 385h1v1h-1zM925 386h1v1h-1zM925 387h1v1h-1zM924 388h1v1h-1zM923 389h1v1h-1zM922 390h1v1h-1zM922 391h1v1h-1zM921 392h1v1h-1zM920 393h1v1h-1zM919 394h1v1h-1zM919 395h1v1h-1zM918 396h1v1h-1zM917 397h1v1h-1zM916 398h1v1h-1zM915 399h1v1h-1zM913 400h2v1h-2zM899 401h6v1h-6zM912 401h1v1h-1zM885 402h14v1h-14zM905 402h4v1h-4zM911 402h1v1h-1zM883 403h2v1h-2zM909 403h2v1h-2zM880 404h3v1h-3zM878 405h2v1h-2zM877 406h1v1h-1zM875 407h2v1h-2zM874 408h1v1h-1zM873 409h1v1h-1zM871 410h2v1h-2zM870 411h1v1h-1zM869 412h1v1h-1zM868 413h1v1h-1zM867 414h1v1h-1zM866 415h1v1h-1zM866 416h1v1h-1zM865 417h1v1h-1zM864 418h1v1h-1zM863 419h1v1h-1zM862 420h1v1h-1zM861 421h1v1h-1zM861 422h1v1h-1zM860 423h1v1h-1zM859 424h1v1h-1zM858 425h1v1h-1zM858 426h1v1h-1zM857 427h1v1h-1zM856 428h1v1h-1zM855 429h1v1h-1zM855 430h1v1h-1zM854 431h1v1h-1zM853 432h1v1h-1zM852 433h1v1h-1zM851 434h1v1h-1zM850 435h1v1h-1zM849 436h1v1h-1zM848 437h1v1h-1zM847 438h1v1h-1zM846 439h1v1h-1zM845 440h1v1h-1zM844 441h1v1h-1zM843 442h1v1h-1zM842 443h1v1h-1zM842 444h1v1h-1zM841 445h1v1h-1zM840 446h1v1h-1zM839 447h1v1h-1zM837 448h2v1h-2zM835 449h2v1h-2zM832 450h3v1h-3zM830 451h2v1h-2zM828 452h2v1h-2zM826 453h2v1h-2zM824 454h2v1h-2zM822 455h2v1h-2zM820 456h2v1h-2zM819 457h1v1h-1zM817 458h2v1h-2zM815 459h2v1h-2zM813 460h2v1h-2zM809 461h4v1h-4zM795 462h14v1h-14zM787 463h8v1h-8zM779 464h8v1h-8zM773 465h6v1h-6zM769 466h4v1h-4zM765 467h4v1h-4zM761 468h4v1h-4zM757 469h4v1h-4zM755 470h2v1h-2zM752 471h3v1h-3zM750 472h2v1h-2zM748 473h2v1h-2zM746 474h2v1h-2zM744 475h2v1h-2zM741 476h3v1h-3zM739 477h2v1h-2zM736 478h3v1h-3zM733 479h3v1h-3zM731 480h2v1h-2zM728 481h3v1h-3zM726 482h2v1h-2zM724 483h2v1h-2zM723 484h1v1h-1zM721 485h2v1h-2zM719 486h2v1h-2zM718 487h1v1h-1zM716 488h2v1h-2zM635 489h6v1h-6zM714 489h2v1h-2zM629 490h6v1h-6zM641 490h4v1h-4zM712 490h2v1h-2zM461 491h14v1h-14zM625 491h4v1h-4zM645 491h14v1h-14zM699 491h13v1h-13zM459 492h2v1h-2zM475 492h8v1h-8zM619 492h6v1h-6zM659 492h8v1h-8zM685 492h14v1h-14zM456 493h3v1h-3zM483 493h6v1h-6zM613 493h6v1h-6zM667 493h6v1h-6zM683 493h2v1h-2zM453 494h3v1h-3zM489 494h4v1h-4zM609 494h4v1h-4zM673 494h4v1h-4zM680 494h3v1h-3zM451 495h2v1h-2zM493 495h3v1h-3zM603 495h6v1h-6zM677 495h3v1h-3zM448 496h3v1h-3zM496 496h2v1h-2zM597 496h6v1h-6zM445 497h3v1h-3zM498 497h2v1h-2zM593 497h4v1h-4zM443 498h2v1h-2zM500 498h2v1h-2zM589 498h4v1h-4zM440 499h3v1h-3zM502 499h5v1h-5zM585 499h4v1h-4zM438 500h2v1h-2zM507 500h8v1h-8zM581 500h4v1h-4zM436 501h2v1h-2zM515 501h8v1h-8zM579 501h2v1h-2zM434 502h2v1h-2zM523 502h6v1h-6zM576 502h3v1h-3zM432 503h2v1h-2zM529 503h4v1h-4zM573 503h3v1h-3zM307 504h6v1h-6zM429 504h3v1h-3zM533 504h6v1h-6zM569 504h4v1h-4zM301 505h6v1h-6zM313 505h4v1h-4zM339 505h14v1h-14zM427 505h2v1h-2zM539 505h16v1h-16zM563 505h6v1h-6zM299 506h2v1h-2zM317 506h6v1h-6zM331 506h8v1h-8zM353 506h4v1h-4zM424 506h3v1h-3zM555 506h8v1h-8zM296 507h3v1h-3zM323 507h8v1h-8zM357 507h11v1h-11zM421 507h3v1h-3zM294 508h2v1h-2zM368 508h2v1h-2zM417 508h4v1h-4zM292 509h2v1h-2zM370 509h2v1h-2zM413 509h4v1h-4zM290 510h2v1h-2zM372 510h2v1h-2zM411 510h2v1h-2zM288 511h2v1h-2zM374 511h3v1h-3zM408 511h3v1h-3zM283 512h5v1h-5zM377 512h4v1h-4zM395 512h13v1h-13zM278 513h5v1h-5zM381 513h14v1h-14zM276 514h2v1h-2zM274 515h2v1h-2zM272 516h2v1h-2zM267 517h5v1h-5zM261 518h6v1h-6zM257 519h4v1h-4zM254 520h3v1h-3zM252 521h2v1h-2zM250 522h2v1h-2zM248 523h2v1h-2zM246 524h2v1h-2zM244 525h2v1h-2zM242 526h2v1h-2zM240 527h2v1h-2zM238 528h2v1h-2zM236 529h2v1h-2zM234 530h2v1h-2zM232 531h2v1h-2zM229 532h3v1h-3zM227 533h2v1h-2zM224 534h3v1h-3zM221 535h3v1h-3zM101 536h19v1h-19zM217 536h4v1h-4zM97 537h4v1h-4zM120 537h3v1h-3zM211 537h6v1h-6zM83 538h14v1h-14zM123 538h2v1h-2zM205 538h6v1h-6zM3 539h8v1h-8zM77 539h6v1h-6zM125 539h14v1h-14zM201 539h4v1h-4zM0 540h3v1h-3zM11 540h5v1h-5zM73 540h4v1h-4zM139 540h8v1h-8zM197 540h4v1h-4zM16 541h2v1h-2zM67 541h6v1h-6zM147 541h6v1h-6zM193 541h4v1h-4zM18 542h2v1h-2zM59 542h8v1h-8zM153 542h4v1h-4zM187 542h6v1h-6zM20 543h2v1h-2zM51 543h8v1h-8zM157 543h30v1h-30zM22 544h29v1h-29z"/><rect x="0" y="374" width="1018" height="2" fill="#f00"/><rect x="0" y="405" width="1018" height="2" fill="#f00"/><rect x="1018" y="0" width="1" height="572" fill="#000"/><path fill="#000" d="M1019 21h2v1h-2zM1019 54h2v1h-2zM1019 87h2v1h-2zM1019 120h2v1h-2zM1019 153h2v1h-2zM1019 186h2v1h-2zM1019 219h2v1h-2zM1019 252h2v1h-2zM1019 285h2v1h-2zM1019 318h2v1h-2zM1019 351h2v1h-2zM1019 384h2v1h-2zM1019 417h2v1h-2zM1019 450h2v1h-2zM1019 483h2v1h-2zM1019 516h2v1h-2zM1019 549h2v1h-2z"/><rect x="1059" y="0" width="1" height="572" fill="#e3e3e3"/><rect x="1020" y="256" width="36" height="11" fill="#000"/><rect x="1020" y="369" width="36" height="11" fill="#f00"/><rect x="1020" y="400" width="36" height="11" fill="#f00"/><text x="34" y="54.5" font-size="24" fill="#454545" style="font-family:'Liberation Sans','Noto Sans CJK SC',sans-serif;text-rendering:geometricPrecision">白银W1</text></svg>
<div class="l" style="top:18px">121.510</div>
<div class="l" style="top:51px">115.220</div>
<div class="l" style="top:84px">108.930</div>
<div class="l" style="top:117px">102.825</div>
<div class="l" style="top:150px">96.535</div>
<div class="l" style="top:183px">90.245</div>
<div class="l" style="top:216px">83.955</div>
<div class="l" style="top:249px">77.850</div>
<div class="l" style="top:282px">71.560</div>
<div class="l" style="top:315px">65.270</div>
<div class="l" style="top:348px">59.165</div>
<div class="l" style="top:381px">52.875</div>
<div class="l" style="top:414px">46.585</div>
<div class="l" style="top:447px">40.295</div>
<div class="l" style="top:480px">34.190</div>
<div class="l" style="top:513px">27.900</div>
<div class="l" style="top:546px">21.610</div>
<div class="l w" style="top:258px">76.108</div>
<div class="l w" style="top:371px">54.512</div>
<div class="l w" style="top:402px">48.716</div>
</body></html>
